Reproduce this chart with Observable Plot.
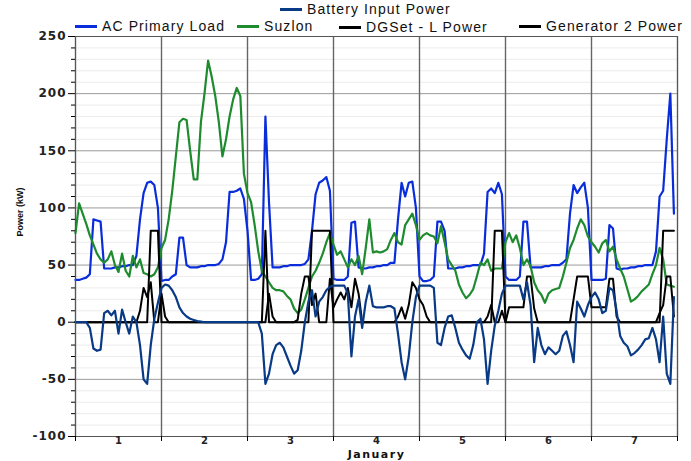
<!DOCTYPE html>
<html><head><meta charset="utf-8">
<script src="https://cdn.jsdelivr.net/npm/d3@7"></script>
<script src="https://cdn.jsdelivr.net/npm/@observablehq/plot@0.6"></script>
<style>
body{margin:0;background:#fff;font-family:"Liberation Sans",Arial,sans-serif;}
#legend{position:relative;width:691px;height:30px;}
.item{position:absolute;display:flex;align-items:center;height:16px;font-size:14px;letter-spacing:1.1px;color:#111;white-space:nowrap;}
.sw{width:22px;height:3px;margin-right:5px;flex:none;}
</style></head><body>
<div id="legend"></div><div id="chart"></div>
<script>
// hourly values, January 1-7 (168 hours)
const acPrimaryLoad = [
 37,37,38,39,42,90,89,88,47,47,47,48,48,49,49,50,50,58,90,113,122,123,120,100,
 36,37,37,40,42,74,74,50,48,48,48,49,49,50,50,50,51,55,70,114,114,115,117,108,
 80,37,37,38,42,180,105,48,48,48,49,49,50,50,50,50,51,55,80,112,122,124,127,115,
 38,37,37,37,40,87,88,48,47,47,48,48,49,49,50,50,52,52,90,122,110,122,123,100,
 40,36,36,37,40,88,88,80,47,47,47,48,48,49,49,50,50,50,60,114,117,113,122,112,
 40,37,37,37,40,88,88,48,48,48,48,49,49,50,50,50,52,55,95,120,113,118,122,100,
 37,37,37,37,38,85,82,47,46,47,47,48,48,49,49,50,50,50,62,110,115,160,200,95
];
const suzlon = [
 78,104,95,86,76,68,60,55,52,55,62,50,44,60,45,40,58,48,55,43,42,40,42,48,
 65,72,90,115,145,175,178,177,150,125,125,175,200,229,215,198,175,145,160,180,195,205,198,130,
 113,105,85,62,45,40,35,30,28,28,27,23,20,12,8,11,20,30,40,45,52,60,70,78,
 68,59,62,55,48,55,50,58,42,65,90,61,62,61,62,64,72,78,70,68,85,90,95,85,
 72,76,78,76,75,69,84,70,55,50,45,33,26,21,24,29,40,52,50,55,45,47,47,47,
 70,78,70,76,65,50,55,49,35,28,24,17,25,28,29,30,40,52,65,72,82,90,85,75,
 70,66,61,69,72,62,66,55,47,40,29,18,20,23,27,30,33,42,50,65,55,33,32,31
];
const dgsetLPower = [
 0,0,0,0,0,0,0,0,0,0,0,0,0,0,0,0,0,0,0,0,0,80,80,80,
 0,0,0,0,0,0,0,0,0,0,0,0,0,0,0,0,0,0,0,0,0,0,0,0,
 0,0,0,0,0,80,0,0,0,0,0,0,0,0,0,0,0,0,80,80,80,80,80,80,
 0,0,0,0,0,0,0,0,0,0,0,0,0,0,0,0,0,0,0,0,0,0,0,0,
 0,0,0,0,0,0,0,0,0,0,0,0,0,0,0,0,0,0,0,0,0,80,80,80,
 0,0,0,0,0,0,0,0,0,0,0,0,0,0,0,0,0,0,0,0,0,0,0,0,
 0,0,0,0,0,0,0,0,0,0,0,0,0,0,0,0,0,0,0,0,80,80,80,80
];
const generator2Power = [
 0,0,0,0,0,0,0,0,0,0,0,0,0,0,0,0,0,0,10,30,22,35,0,0,
 25,5,0,0,0,0,0,0,0,0,0,0,0,0,0,0,0,0,0,0,0,0,0,0,
 0,0,0,0,0,0,25,5,0,0,0,0,0,0,2,25,40,40,15,25,0,0,0,38,
 13,20,26,20,30,13,38,25,0,0,0,0,0,0,0,0,0,0,5,13,3,15,35,30,
 20,15,5,0,0,0,0,0,0,0,0,0,0,0,0,0,0,0,0,5,15,0,0,10,
 0,13,13,13,13,13,40,40,12,0,0,0,0,0,0,0,0,0,0,20,40,40,40,40,
 13,13,13,13,13,38,38,5,0,0,0,0,0,0,0,0,0,0,0,8,15,40,40,5
];
const batteryInputPower = [
 0,0,0,0,-5,-23,-25,-24,8,10,6,10,-10,11,0,-10,5,0,-20,-50,-54,-20,3,17,
 30,33,32,28,22,13,8,5,3,2,1,0.5,0,0,0,0,0,0,0,0,0,0,0,0,
 0,0,0,0,-10,-54,-45,-28,-20,-18,-22,-30,-38,-45,-42,-25,0,18,28,5,18,22,28,31,
 32,32,32,32,25,-30,5,20,-5,18,32,14,13,13,13,14,14,12,-10,-35,-50,-30,0,22,
 32,32,32,32,30,-18,-20,-5,5,6,-5,-18,-24,-29,-32,-20,0,3,-15,-54,-25,-3,10,25,
 32,32,32,32,32,20,35,15,-35,-5,-20,-28,-22,-25,-28,-25,-12,-8,-20,-35,18,12,5,15,
 22,26,20,8,10,30,28,10,-12,-18,-21,-29,-27,-24,-20,-15,-14,-5,-15,-35,5,-45,-54,22
];
const dayLabels = ["1","2","3","4","5","6","7"];
const yTicks = [-100,-50,0,50,100,150,200,250];
const legendNames = ["Battery Input Power","AC Primary Load","Suzlon","DGSet - L Power","Generator 2 Power"];
const colors = {"AC Primary Load":"#0a2ddb","Suzlon":"#1e8b2f","DGSet - L Power":"#000000","Generator 2 Power":"#000000","Battery Input Power":"#083a86"};

// legend
const legendPos = [[280,1],[75,18],[237,18],[339,19],[519,18]];
const leg = document.getElementById("legend");
legendNames.forEach((n,i)=>{
  const d = document.createElement("div");
  d.className="item"; d.style.left=legendPos[i][0]+"px"; d.style.top=legendPos[i][1]+"px";
  d.innerHTML = `<span class="sw" style="background:${colors[n]}"></span><span>${n}</span>`;
  leg.appendChild(d);
});

const dayBounds = d3.range(0,169,24);
const dayCenters = d3.range(12,168,24);
const minor = d3.range(-100,251,10).filter(v=>v%50!==0);
const idx = (d,i)=>i;
const val = d=>d;
const chart = Plot.plot({
  width:691, height:431,
  marginLeft:75, marginRight:14, marginTop:6, marginBottom:25,
  x:{domain:[0,168], label:null},
  y:{domain:[-100,250], label:null},
  style:{fontFamily:"DejaVu Sans, sans-serif", fontSize:"11px", background:"#fff", overflow:"visible"},
  marks:[
    Plot.ruleY(minor,{stroke:"#ececec"}),
    Plot.ruleY(yTicks,{stroke:"#9a9a9a"}),
    Plot.ruleX(dayBounds,{stroke:"#666", strokeWidth:1.4}),
    Plot.line(acPrimaryLoad,{x:idx,y:val,stroke:colors["AC Primary Load"],strokeWidth:2.2}),
    Plot.line(suzlon,{x:idx,y:val,stroke:colors["Suzlon"],strokeWidth:2.2}),
    Plot.line(dgsetLPower,{x:idx,y:val,stroke:colors["DGSet - L Power"],strokeWidth:2}),
    Plot.line(generator2Power,{x:idx,y:val,stroke:colors["Generator 2 Power"],strokeWidth:2}),
    Plot.line(batteryInputPower,{x:idx,y:val,stroke:colors["Battery Input Power"],strokeWidth:2.2}),
    Plot.frame({stroke:"#555"}),
    Plot.axisY({ticks:yTicks, tickSize:7, tickPadding:2, fontWeight:"bold", fontSize:12, fill:"#222", label:null,
      tickFormat:d=>String(d)}),
    Plot.axisY({ticks:minor, tickSize:4, tickFormat:()=>"", label:null}),
    Plot.axisX({ticks:dayBounds, tickSize:5, tickFormat:()=>"", label:null}),
    Plot.axisX({ticks:dayCenters, tickSize:0, tickPadding:0, fontWeight:"bold", fontSize:10, fill:"#222", label:null,
      tickFormat:d=>dayLabels[Math.round((d-12)/24)]}),
    Plot.text(["January"],{frameAnchor:"bottom", dy:18, lineAnchor:"middle", text:d=>d, fontWeight:"bold", fontSize:11, fill:"#111"}),
    Plot.text(["Power (kW)"],{frameAnchor:"left", dx:-55, rotate:-90, text:d=>d, fontWeight:"bold", fontSize:9, fontFamily:"Liberation Sans, Arial, sans-serif", fill:"#111"})
  ]
});
document.getElementById("chart").appendChild(chart);
d3.select(chart).selectAll('g[aria-label="y-axis tick label"] text').attr("letter-spacing","1px");
d3.select(chart).selectAll('g[aria-label="text"] text').filter(function(){return this.textContent==="January";}).attr("letter-spacing","1.5px");
</script>
</body></html>
